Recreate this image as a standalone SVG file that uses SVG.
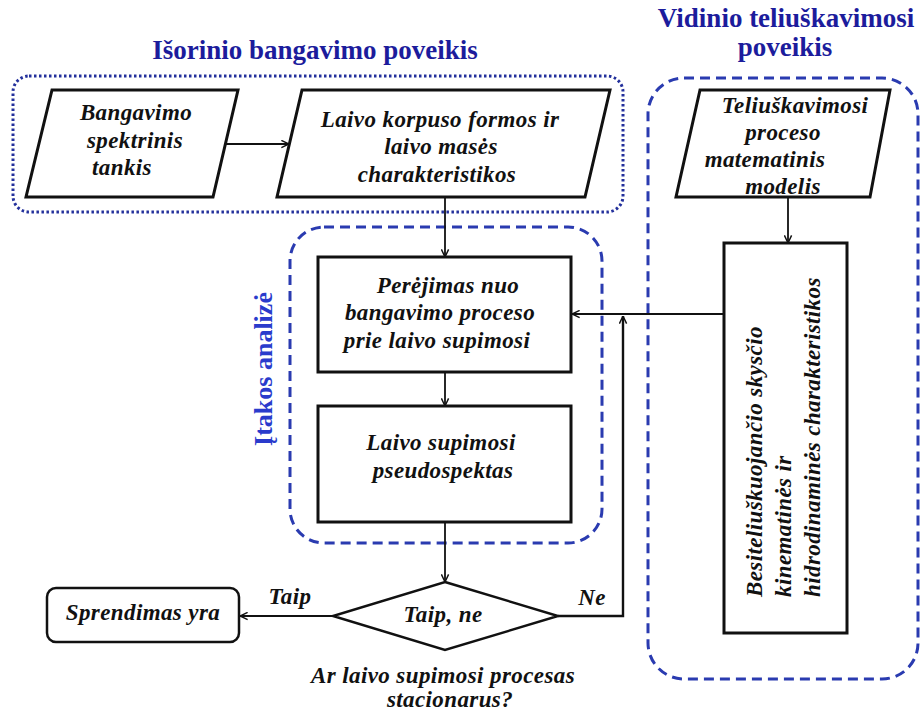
<svg xmlns="http://www.w3.org/2000/svg" width="920" height="717" viewBox="0 0 920 717">
<style>
.bg{fill:#ffffff}
.node{fill:#ffffff;stroke:#111111;stroke-width:3}
.t{font-family:"Liberation Serif","Times New Roman",serif;font-weight:bold;font-style:italic;font-size:23px;fill:#111111;letter-spacing:0.4px}
.title{font-family:"Liberation Serif","Times New Roman",serif;font-weight:bold;font-size:27px;fill:#1c1c9c}
.grp{fill:none;stroke:#2a3bb0;stroke-width:3}
.dotted{stroke-dasharray:2.5 2.5;stroke-width:3;stroke:#23309c}
.dashed{stroke-dasharray:10 6}
.conn{fill:none;stroke:#111111;stroke-width:1.8}
</style>
<defs>
<marker id="arr" viewBox="0 0 10 10" refX="9.5" refY="5" markerWidth="9" markerHeight="9" markerUnits="userSpaceOnUse" orient="auto">
<path d="M1,1 L9.5,5 L1,9" fill="none" stroke="#111111" stroke-width="1.6"/>
</marker>
</defs>
<rect class="bg" x="0" y="0" width="920" height="717"/>

<g id="groups">
<rect class="grp dotted" x="13" y="76" width="610" height="136" rx="16"/>
<rect class="grp dashed" x="290" y="227" width="312" height="316" rx="34"/>
<rect class="grp dashed" x="648" y="78" width="270" height="601" rx="36"/>
<text class="title" x="315" y="59" text-anchor="middle">Išorinio bangavimo poveikis</text>
<text class="title" x="786" y="27" text-anchor="middle">Vidinio teliuškavimosi</text>
<text class="title" x="785" y="56" text-anchor="middle">poveikis</text>
<text class="title" x="272" y="369" text-anchor="middle" transform="rotate(-90 272 369)" style="fill:#2a3bcc;font-size:26px">Įtakos analizė</text>
</g>

<g id="connectors">
<line class="conn" x1="226" y1="144" x2="289" y2="144" marker-end="url(#arr)"/>
<line class="conn" x1="445" y1="197" x2="445" y2="257" marker-end="url(#arr)"/>
<line class="conn" x1="788" y1="197" x2="788" y2="243" marker-end="url(#arr)"/>
<line class="conn" x1="724" y1="314" x2="572" y2="314" marker-end="url(#arr)"/>
<line class="conn" x1="445" y1="372" x2="445" y2="406" marker-end="url(#arr)"/>
<line class="conn" x1="445" y1="522" x2="445" y2="582" marker-end="url(#arr)"/>
<line class="conn" x1="333" y1="616" x2="240" y2="616" marker-end="url(#arr)"/>
<polyline class="conn" points="558,616 623,616 623,316" style="stroke-width:2.4" marker-end="url(#arr)"/>
<text class="t" x="290" y="604" text-anchor="middle">Taip</text>
<text class="t" x="592" y="605" text-anchor="middle">Ne</text>
</g>

<g id="n-bangavimo">
<polygon class="node" points="52,90 238,90 213,197 26,197"/>
<text class="t" x="136" y="120" text-anchor="middle">Bangavimo</text>
<text class="t" x="135" y="148" text-anchor="middle">spektrinis</text>
<text class="t" x="122" y="175" text-anchor="middle">tankis</text>
</g>

<g id="n-korpuso">
<polygon class="node" points="302,90 610,90 585,197 277,197"/>
<text class="t" x="440" y="127" text-anchor="middle">Laivo korpuso formos ir</text>
<text class="t" x="441" y="154" text-anchor="middle">laivo masės</text>
<text class="t" x="437" y="182" text-anchor="middle">charakteristikos</text>
</g>

<g id="n-modelis">
<polygon class="node" points="700,90 890,90 870,197 676,197"/>
<text class="t" x="795" y="113" text-anchor="middle">Teliuškavimosi</text>
<text class="t" x="783" y="140" text-anchor="middle">proceso</text>
<text class="t" x="765" y="167" text-anchor="middle">matematinis</text>
<text class="t" x="783" y="194" text-anchor="middle">modelis</text>
</g>

<g id="n-charakteristikos">
<rect class="node" x="724" y="243" width="123" height="390"/>
<text class="t" x="762" y="597" transform="rotate(-90 762 597)">Besiteliuškuojančio skysčio</text>
<text class="t" x="791" y="597" transform="rotate(-90 791 597)">kinematinės ir</text>
<text class="t" x="820" y="597" transform="rotate(-90 820 597)">hidrodinaminės charakteristikos</text>
</g>

<g id="n-perejimas">
<rect class="node" x="318" y="257" width="253" height="115"/>
<text class="t" x="448" y="293" text-anchor="middle">Perėjimas nuo</text>
<text class="t" x="440" y="320" text-anchor="middle">bangavimo proceso</text>
<text class="t" x="437" y="348" text-anchor="middle">prie laivo supimosi</text>
</g>

<g id="n-pseudospektas">
<rect class="node" x="318" y="406" width="253" height="116"/>
<text class="t" x="441" y="450" text-anchor="middle">Laivo supimosi</text>
<text class="t" x="443" y="478" text-anchor="middle">pseudospektas</text>
</g>

<g id="n-salyga">
<polygon class="node" points="445,582 558,616 445,650 333,616" style="stroke-width:2.5"/>
<text class="t" x="443" y="622" text-anchor="middle">Taip, ne</text>
<text class="t" x="443" y="683" text-anchor="middle">Ar laivo supimosi procesas</text>
<text class="t" x="450" y="707" text-anchor="middle">stacionarus?</text>
</g>

<g id="n-sprendimas">
<rect class="node" x="47" y="588" width="192" height="54" rx="9" style="stroke-width:2.5"/>
<text class="t" x="143" y="620" text-anchor="middle">Sprendimas yra</text>
</g>
</svg>
